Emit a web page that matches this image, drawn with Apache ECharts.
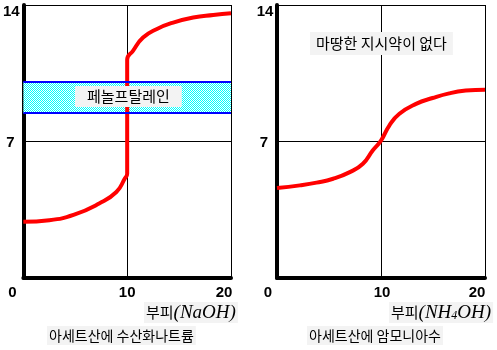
<!DOCTYPE html>
<html><head><meta charset="utf-8">
<script src="https://cdn.jsdelivr.net/npm/echarts@6/dist/echarts.min.js"></script>
<style>html,body{margin:0;padding:0;background:#fff}#c{width:497px;height:350px}</style>
</head><body><div id="c"></div>
<script>
// Data
const xTickValues = [0, 10, 20];
const yTickValues = [7, 14];
const naohVolume = [0, 2.5, 4.9, 7.3, 8.96, 9.76, 10, 10, 10.56, 11.53, 12.82, 14.43, 16.36, 18.29, 20];
const naohPH     = [2.88, 2.96, 3.25, 3.82, 4.41, 5.09, 5.35, 11.19, 11.65, 12.33, 12.76, 13.1, 13.36, 13.49, 13.58];
const nh4ohVolume = [0, 2.2, 3.8, 5.4, 7.0, 8.26, 9.2, 10, 10.8, 11.77, 13.37, 14.96, 16.56, 18.15, 20];
const nh4ohPH     = [4.61, 4.75, 4.89, 5.09, 5.43, 5.86, 6.54, 7.05, 7.82, 8.42, 8.93, 9.23, 9.47, 9.61, 9.66];
const phenolRange = [8.45, 10.05];
const indicatorLabel = '페놀프탈레인';
const noIndicatorLabel = '마땅한 지시약이 없다';
const xNameLeft = ['부피', '(NaOH)'];
const xNameRight = ['부피', '(NH', '4', 'OH)'];
const titleLeft = '아세트산에 수산화나트륨';
const titleRight = '아세트산에 암모니아수';

const chart = echarts.init(document.getElementById('c'), null, {renderer: 'canvas'});

// checker pattern for band
const pc = document.createElement('canvas');
pc.width = 2; pc.height = 2;
const pctx = pc.getContext('2d');
pctx.fillStyle = '#ffffff'; pctx.fillRect(0, 0, 2, 2);
pctx.fillStyle = '#00ffff'; pctx.fillRect(0, 0, 1, 1); pctx.fillRect(1, 1, 1, 1);

const tickFont = {fontFamily: 'Liberation Sans', fontWeight: 'bold', fontSize: 15, color: '#000'};
const koFont = 'Noto Sans CJK KR';

function xAxisFor(idx, shifts) {
  const rich = {};
  xTickValues.forEach((v, i) => { rich['s' + i] = Object.assign({}, tickFont, {padding: shifts[i] < 0 ? [0, -2 * shifts[i], 0, 0] : [0, 0, 0, 2 * shifts[i]]}); });
  return {
    type: 'value', gridIndex: idx, min: 0, max: 20, interval: 10,
    axisLine: {show: true, onZero: false, lineStyle: {color: '#000', width: 4}},
    axisTick: {show: false},
    splitLine: {show: true, lineStyle: {color: '#000', width: 1}},
    axisLabel: {show: true, margin: 7, showMinLabel: true, showMaxLabel: true,
      formatter: v => { const i = xTickValues.indexOf(v); return i < 0 ? '' : '{s' + i + '|' + v + '}'; },
      rich: rich}
  };
}
function yAxisFor(idx) {
  return {
    type: 'value', gridIndex: idx, min: 0, max: 14, interval: 7,
    axisLine: {show: true, onZero: false, lineStyle: {color: '#000', width: 4}},
    axisTick: {show: false},
    splitLine: {show: true, lineStyle: {color: '#000', width: 1}},
    axisLabel: {show: true, margin: 12, align: 'center',
      formatter: v => { if (yTickValues.indexOf(v) < 0) return ''; return v === 14 ? '{t|' + v + '}' : '{m|' + v + '}'; },
      rich: {t: Object.assign({}, tickFont, {padding: [13, 0, 0, 0]}), m: Object.assign({}, tickFont, {padding: [2, 2, 0, 0]})}}
  };
}

const boxBg = '#f3f3f3';
const koStyle = {fontFamily: koFont, fontSize: 14, fontWeight: 'normal', color: '#000'};
const koStyleX = {fontFamily: koFont, fontSize: 15, fontWeight: 'normal', color: '#000'};
const mathStyle = {fontFamily: 'Liberation Serif', fontStyle: 'italic', fontWeight: 'normal', fontSize: 19, color: '#000'};

chart.setOption({
  animation: false,
  backgroundColor: '#fff',
  grid: [
    {left: 23, right: 266, top: 5, bottom: 72, containLabel: false},
    {left: 277, right: 12, top: 5, bottom: 72, containLabel: false}
  ],
  xAxis: [xAxisFor(0, [-11, 0, -7]), xAxisFor(1, [-9, 1, -8])],
  yAxis: [yAxisFor(0), yAxisFor(1)],
  title: [
    {text: indicatorLabel, left: 75, top: 86, padding: [3, 12, 3, 12], backgroundColor: boxBg,
      textStyle: Object.assign({}, koStyle, {fontSize: 15, lineHeight: 15})},
    {text: noIndicatorLabel, left: 310, top: 32, padding: [4, 6, 4, 6], backgroundColor: boxBg,
      textStyle: Object.assign({}, koStyle, {fontSize: 15, lineHeight: 15})},
    {text: '{k|' + xNameLeft[0] + '}{m|' + xNameLeft[1] + '}', left: 144, top: 302, padding: [1, 2, 1, 2], backgroundColor: boxBg,
      textStyle: {fontWeight: 'normal', rich: {k: koStyleX, m: mathStyle}}},
    {text: '{k|' + xNameRight[0] + '}{m|' + xNameRight[1] + '}{s|' + xNameRight[2] + '}{m|' + xNameRight[3] + '}', left: 389, top: 302, padding: [1, 2, 1, 2], backgroundColor: boxBg,
      textStyle: {fontWeight: 'normal', rich: {k: koStyleX, m: mathStyle, s: Object.assign({}, mathStyle, {fontSize: 12, padding: [6, 0, 0, 0]})}}},
    {text: titleLeft, left: 47, top: 326, padding: [2, 2, 2, 2], backgroundColor: boxBg, textStyle: Object.assign({}, koStyle, {lineHeight: 15})},
    {text: titleRight, left: 307, top: 326, padding: [2, 2, 2, 2], backgroundColor: boxBg, textStyle: Object.assign({}, koStyle, {lineHeight: 15})}
  ],
  series: [
    {type: 'line', xAxisIndex: 0, yAxisIndex: 0, data: naohVolume.map((x, i) => [x, naohPH[i]]),
      showSymbol: false, smooth: true, lineStyle: {color: '#ff0000', width: 4}, z: 3,
      markArea: {silent: true, itemStyle: {color: {image: pc, repeat: 'repeat'}}, data: [[{yAxis: phenolRange[0]}, {yAxis: phenolRange[1]}]]},
      markLine: {silent: true, symbol: ['none', 'none'], label: {show: false}, lineStyle: {color: '#0000ff', width: 2, type: 'solid'},
        data: [{yAxis: phenolRange[0]}, {yAxis: phenolRange[1]}]}
    },
    {type: 'line', xAxisIndex: 1, yAxisIndex: 1, data: nh4ohVolume.map((x, i) => [x, nh4ohPH[i]]),
      showSymbol: false, smooth: true, lineStyle: {color: '#ff0000', width: 4}, z: 3}
  ]
});
</script></body></html>
